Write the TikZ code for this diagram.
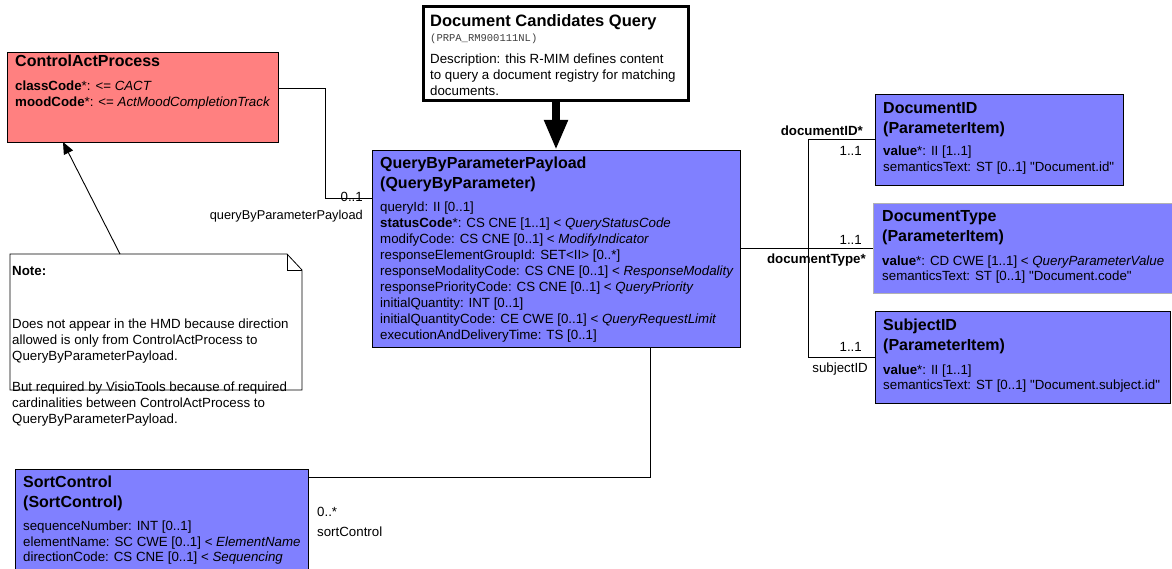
\documentclass[tikz,border=0pt]{standalone}
\usepackage{fontspec}
\setmainfont{Liberation Sans}
\setmonofont{Liberation Mono}
\usetikzlibrary{arrows.meta}

\definecolor{actred}{RGB}{255,128,128}
\definecolor{classblue}{RGB}{128,128,255}

\newcommand{\titlefont}{\fontsize{16}{20}\selectfont\bfseries}
\newcommand{\bodyfont}{\fontsize{13.3}{16}\selectfont}
\newcommand{\attrfont}{\fontsize{13.3}{15.3}\selectfont}

\begin{document}
\begin{tikzpicture}[x=1pt,y=-1pt]
% Define styles for boxes, texts and connectors
\tikzstyle{actbox} = [draw, fill=actred, line width=0.8pt, anchor=north west, inner sep=0, outer sep=0]
\tikzstyle{classbox} = [draw, fill=classblue, line width=0.8pt, anchor=north west, inner sep=0, outer sep=0]
\tikzstyle{boxtitle} = [anchor=north west, inner sep=0, align=left, font=\titlefont]
\tikzstyle{boxbody} = [anchor=north west, inner sep=0, align=left, font=\bodyfont]
\tikzstyle{rolelabel} = [inner sep=0, font=\bodyfont]
\tikzstyle{assoc} = [line width=0.9pt]

\fill[white] (0,0) rectangle (1172,569);
\useasboundingbox (0,0) rectangle (1172,569);

% Boxes
\node[actbox, minimum width=271pt, minimum height=90pt] (cap) at (7,52) {};
\node[draw, fill=white, line width=3pt, anchor=north west, inner sep=0, outer sep=0, minimum width=265pt, minimum height=94pt] (dcq) at (423,7) {};
\node[classbox, minimum width=368pt, minimum height=197pt] (qbp) at (372,150) {};
\node[classbox, minimum width=248pt, minimum height=91pt] (docid) at (875,94) {};
\node[classbox, draw=gray!60, minimum width=310pt, minimum height=90pt] (doctype) at (873,203) {};
\node[classbox, minimum width=295pt, minimum height=92pt] (subjid) at (875,311) {};
\node[classbox, minimum width=293pt, minimum height=120pt] (sortc) at (15,469) {};
\node[anchor=north west, inner sep=0, outer sep=0, minimum width=292pt, minimum height=136pt] (note) at (10,254) {};

% Note outline
\draw[line width=0.8pt, fill=white] (note.north west) -- ([xshift=-15pt]note.north east) -- ([yshift=-16pt]note.north east) -- (note.south east) -- (note.south west) -- cycle;
\draw[line width=0.8pt] ([xshift=-15pt]note.north east) |- ([yshift=-16pt]note.north east);

% Texts
\node[boxtitle] (cap-title) at (15,55) {ControlActProcess};
\node[boxbody] (cap-body) at (15,81) {\textbf{classCode}*: <= \textit{CACT}\\\textbf{moodCode}*: <= \textit{ActMoodCompletionTrack}};

\node[boxtitle, font=\fontsize{16.5}{20}\selectfont\bfseries] (dcq-title) at (430,14.2) {Document Candidates Query};
\node[inner sep=0, anchor=base west, font=\fontsize{10.5}{12}\ttfamily, text=black!75] (dcq-id) at (430,41.5) {(PRPA\_RM900111NL)};
\node[boxbody] (dcq-body) at (430,53.6) {Description: this R-MIM defines content\\to query a document registry for matching\\documents.};

\node[boxtitle] (qbp-title) at (380,156.6) {QueryByParameterPayload\\(QueryByParameter)};
\node[boxbody] (qbp-body) at (380,202) {queryId: II [0..1]\\
\textbf{statusCode}*: CS CNE [1..1] < \textit{QueryStatusCode}\\
modifyCode: CS CNE [0..1] < \textit{ModifyIndicator}\\
responseElementGroupId: SET<II> [0..*]\\
responseModalityCode: CS CNE [0..1] < \textit{ResponseModality}\\
responsePriorityCode: CS CNE [0..1] < \textit{QueryPriority}\\
initialQuantity: INT [0..1]\\
initialQuantityCode: CE CWE [0..1] < \textit{QueryRequestLimit}\\
executionAndDeliveryTime: TS [0..1]};

\node[boxtitle] (docid-title) at (883,102.3) {DocumentID\\(ParameterItem)};
\node[boxbody, font=\attrfont] (docid-body) at (883,146) {\textbf{value}*: II [1..1]\\semanticsText: ST [0..1] \textquotedbl Document.id\textquotedbl};

\node[boxtitle] (doctype-title) at (882,210) {DocumentType\\(ParameterItem)};
\node[boxbody, font=\attrfont] (doctype-body) at (882,255.3) {\textbf{value}*: CD CWE [1..1] < \textit{QueryParameterValue}\\semanticsText: ST [0..1] \textquotedbl Document.code\textquotedbl};

\node[boxtitle] (subjid-title) at (883,318.3) {SubjectID\\(ParameterItem)};
\node[boxbody, font=\attrfont] (subjid-body) at (883,364.3) {\textbf{value}*: II [1..1]\\semanticsText: ST [0..1] \textquotedbl Document.subject.id\textquotedbl};

\node[boxtitle] (sortc-title) at (23,475.6) {SortControl\\(SortControl)};
\node[boxbody, font=\fontsize{13.3}{15.5}\selectfont] (sortc-body) at (23,521) {sequenceNumber: INT [0..1]\\elementName: SC CWE [0..1] < \textit{ElementName}\\directionCode: CS CNE [0..1] < \textit{Sequencing}};

\node[boxbody] (note-body) at (12,266) {\textbf{Note:}\\[37pt]Does not appear in the HMD because direction\\allowed is only from ControlActProcess to\\QueryByParameterPayload.\\[15pt]But required by VisioTools because of required\\cardinalities between ControlActProcess to\\QueryByParameterPayload.};

% Connectors
\draw[line width=8pt, -{Triangle[length=30pt,width=22pt]}] (dcq.south -| qbp.north) -- (qbp.north);
\draw[assoc, -{Triangle[length=12pt,width=10pt]}] ([xshift=110pt]note.north west) -- ([xshift=56pt]cap.south west);
\draw[assoc] ([yshift=-36pt]cap.north east) -- ++(47,0) |- ([yshift=-48pt]qbp.north west);
\draw[assoc] (doctype.west) -- (doctype.west -| qbp.east);
\draw[assoc] (docid.west) -- ++(-67,0) |- (subjid.west);
\draw[assoc] ([yshift=-8pt]sortc.north east) -| ([xshift=94pt]qbp.south);

% Role labels
\node[rolelabel, anchor=base east] (qbp-mult) at (363,201.5) {0..1};
\node[rolelabel, anchor=base east, font=\fontsize{12.8}{15}\selectfont] (qbp-role) at (363,220) {queryByParameterPayload};
\node[rolelabel, anchor=base east, font=\bodyfont\bfseries] (docid-role) at (863,136) {documentID*};
\node[rolelabel, anchor=base east] (docid-mult) at (862,156) {1..1};
\node[rolelabel, anchor=base east] (doctype-mult) at (862,245) {1..1};
\node[rolelabel, anchor=base east, font=\bodyfont\bfseries] (doctype-role) at (866,263.3) {documentType*};
\node[rolelabel, anchor=base east] (subjid-mult) at (862,351.7) {1..1};
\node[rolelabel, anchor=base east] (subjid-role) at (868,372.7) {subjectID};
\node[rolelabel, anchor=base west] (sortc-mult) at (317,516) {0..*};
\node[rolelabel, anchor=base west] (sortc-role) at (317,536) {sortControl};
\end{tikzpicture}
\end{document}
